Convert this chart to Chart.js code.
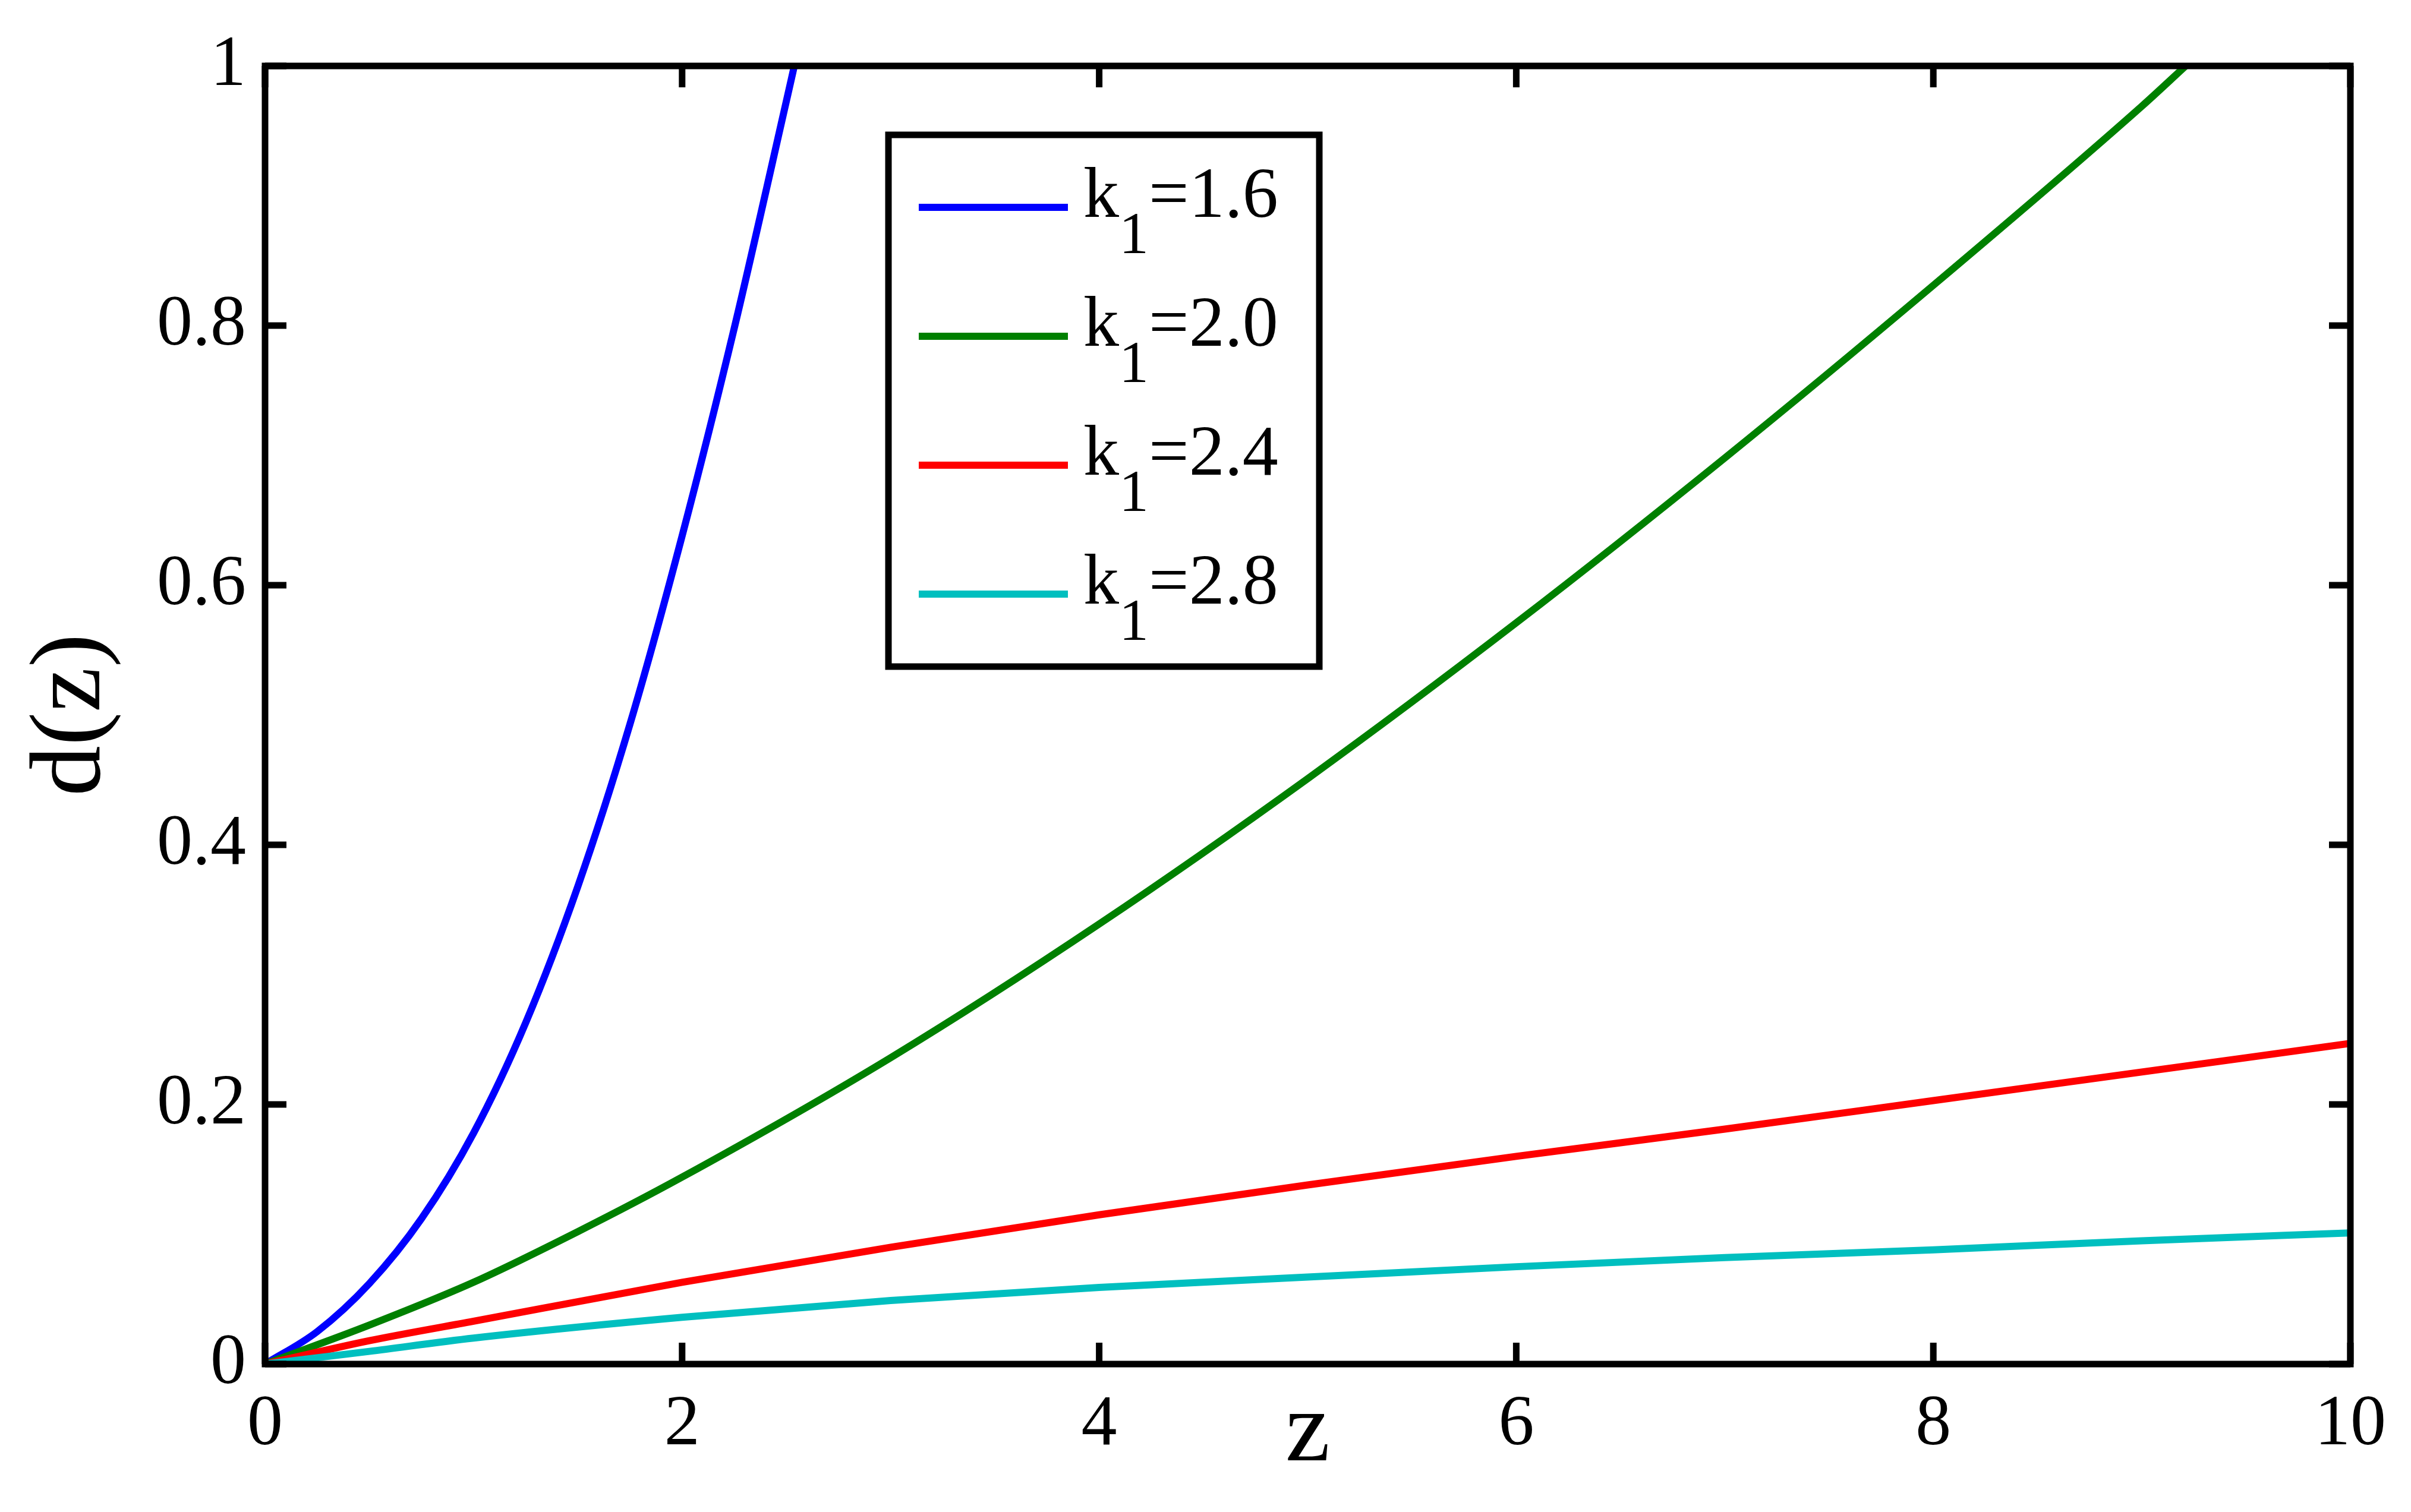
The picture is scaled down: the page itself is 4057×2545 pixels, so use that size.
<!DOCTYPE html>
<html>
<head>
<meta charset="utf-8">
<title>d(z)</title>
<script src="https://cdn.jsdelivr.net/npm/chart.js@4.4.1/dist/chart.umd.min.js"></script>
<style>
  html, body { margin: 0; padding: 0; background: #fff; }
  canvas { display: block; }
</style>
</head>
<body>
<canvas id="chart" width="4057" height="2545"></canvas>
<script>
// axis ticks
const xTicks = [0, 2, 4, 6, 8, 10];
const xTickLabels = ["0", "2", "4", "6", "8", "10"];
const yTicks = [0, 0.2, 0.4, 0.6, 0.8, 1];
const yTickLabels = ["0", "0.2", "0.4", "0.6", "0.8", "1"];

// k1 values shown in the legend
const k1Values = ["1.6", "2.0", "2.4", "2.8"];
const colors = ["#0000ff", "#008000", "#ff0000", "#00bfbf"];

// curves
const blueZ = [0, 0.25, 0.5, 0.75, 1.0, 1.25, 1.5, 1.75, 2.0, 2.25, 2.5, 2.538];
const blueD = [0, 0.025, 0.062, 0.112, 0.178, 0.263, 0.368, 0.493, 0.638, 0.798, 0.973, 1.0];

const greenZ = [0, 0.5, 1, 1.5, 2, 3, 4, 5, 6, 7, 8, 9, 9.21];
const greenD = [0, 0.03, 0.063, 0.102, 0.144, 0.236, 0.339, 0.451, 0.571, 0.698, 0.831, 0.969, 1.0];

const redZ = [0, 0.5, 1, 2, 3, 4, 5, 6, 7, 8, 9, 10];
const redD = [0, 0.018, 0.033, 0.063, 0.09, 0.115, 0.138, 0.16, 0.181, 0.203, 0.225, 0.247];

const cyanZ = [0, 0.5, 1, 2, 3, 4, 5, 6, 7, 8, 9, 10];
const cyanD = [0, 0.0098, 0.02, 0.036, 0.049, 0.059, 0.067, 0.075, 0.082, 0.088, 0.095, 0.101];

const FONT = "'Liberation Serif', 'Times New Roman', serif";

function pts(zs, ds) {
  return zs.map((z, i) => ({ x: z, y: ds[i] }));
}

// box round the plot + inward ticks on all four sides
const frame = {
  id: "frame",
  afterDatasetsDraw(chart) {
    const { ctx, chartArea: a, scales } = chart;
    const len = 36;
    ctx.save();
    ctx.strokeStyle = "#000";
    ctx.lineWidth = 11;
    ctx.beginPath();
    scales.x.ticks.forEach((t) => {
      const px = scales.x.getPixelForValue(t.value);
      ctx.moveTo(px, a.bottom);
      ctx.lineTo(px, a.bottom - len);
      ctx.moveTo(px, a.top);
      ctx.lineTo(px, a.top + len);
    });
    scales.y.ticks.forEach((t) => {
      const py = scales.y.getPixelForValue(t.value);
      ctx.moveTo(a.left, py);
      ctx.lineTo(a.left + len, py);
      ctx.moveTo(a.right, py);
      ctx.lineTo(a.right - len, py);
    });
    ctx.stroke();
    ctx.lineJoin = "miter";
    ctx.strokeRect(a.left, a.top, a.right - a.left, a.bottom - a.top);
    ctx.restore();
  },
};

// legend with subscript k1
const legendBox = {
  id: "legendBox",
  afterDraw(chart, args, o) {
    const { ctx, chartArea: a } = chart;
    const x0 = a.left + o.left;
    const y0 = a.top + o.top;
    ctx.save();
    ctx.fillStyle = "#fff";
    ctx.fillRect(x0, y0, o.width, o.height);
    ctx.strokeStyle = "#000";
    ctx.lineWidth = 11;
    ctx.strokeRect(x0, y0, o.width, o.height);

    chart.data.datasets.forEach((ds, i) => {
      const ly = y0 + o.firstRow + i * o.rowGap;
      ctx.strokeStyle = ds.borderColor;
      ctx.lineWidth = ds.borderWidth;
      ctx.beginPath();
      ctx.moveTo(x0 + o.lineStart, ly);
      ctx.lineTo(x0 + o.lineEnd, ly);
      ctx.stroke();

      ctx.fillStyle = "#000";
      ctx.textAlign = "left";
      ctx.textBaseline = "alphabetic";
      const base = ly + o.baseline;
      let tx = x0 + o.textStart;
      ctx.font = `${o.fontSize}px ${FONT}`;
      ctx.fillText("k", tx, base);
      tx += ctx.measureText("k").width;
      ctx.font = `${o.subSize}px ${FONT}`;
      ctx.fillText("1", tx, base + o.subShift);
      tx += ctx.measureText("1").width;
      ctx.font = `${o.fontSize}px ${FONT}`;
      ctx.fillText("=" + k1Values[i], tx, base);
    });
    ctx.restore();
  },
};

const datasets = [
  { label: "k1=" + k1Values[0], data: pts(blueZ, blueD), borderColor: colors[0], order: 3 },
  { label: "k1=" + k1Values[1], data: pts(greenZ, greenD), borderColor: colors[1], order: 2 },
  { label: "k1=" + k1Values[2], data: pts(redZ, redD), borderColor: colors[2], order: 1 },
  { label: "k1=" + k1Values[3], data: pts(cyanZ, cyanD), borderColor: colors[3], order: 0 },
].map((d) => ({
  ...d,
  borderWidth: 12,
  pointRadius: 0,
  fill: false,
  cubicInterpolationMode: "monotone",
}));

new Chart(document.getElementById("chart"), {
  type: "line",
  data: { datasets },
  plugins: [frame, legendBox],
  options: {
    responsive: false,
    devicePixelRatio: 1,
    animation: false,
    layout: { padding: { left: 0, top: 111, right: 102, bottom: 0 } },
    plugins: {
      legend: { display: false },
      tooltip: { enabled: false },
      legendBox: {
        left: 1049, top: 116, width: 725, height: 895,
        firstRow: 122, rowGap: 217,
        lineStart: 51, lineEnd: 302, textStart: 328,
        baseline: 16, subShift: 61,
        fontSize: 120, subSize: 100,
      },
    },
    scales: {
      x: {
        type: "linear",
        min: 0,
        max: 10,
        afterBuildTicks: (s) => { s.ticks = xTicks.map((v) => ({ value: v })); },
        afterFit: (s) => { s.height = 249; },
        grid: { display: false, drawTicks: false },
        border: { display: false },
        ticks: {
          color: "#000",
          font: { family: FONT, size: 120 },
          padding: 31,
          maxRotation: 0,
          autoSkip: false,
          callback: (v, i) => xTickLabels[i],
        },
        title: {
          display: true,
          text: "z",
          color: "#000",
          font: { family: FONT, size: 170 },
          padding: { top: 0, bottom: 30 },
        },
      },
      y: {
        type: "linear",
        min: 0,
        max: 1,
        afterBuildTicks: (s) => { s.ticks = yTicks.map((v) => ({ value: v })); },
        afterFit: (s) => { s.width = 446; },
        grid: { display: false, drawTicks: false },
        border: { display: false },
        ticks: {
          color: "#000",
          font: { family: FONT, size: 120 },
          padding: 32,
          autoSkip: false,
          callback: (v, i) => yTickLabels[i],
        },
        title: {
          display: true,
          text: "d(z)",
          color: "#000",
          font: { family: FONT, size: 170 },
          padding: { top: 20, bottom: 0 },
        },
      },
    },
  },
});
</script>
</body>
</html>
